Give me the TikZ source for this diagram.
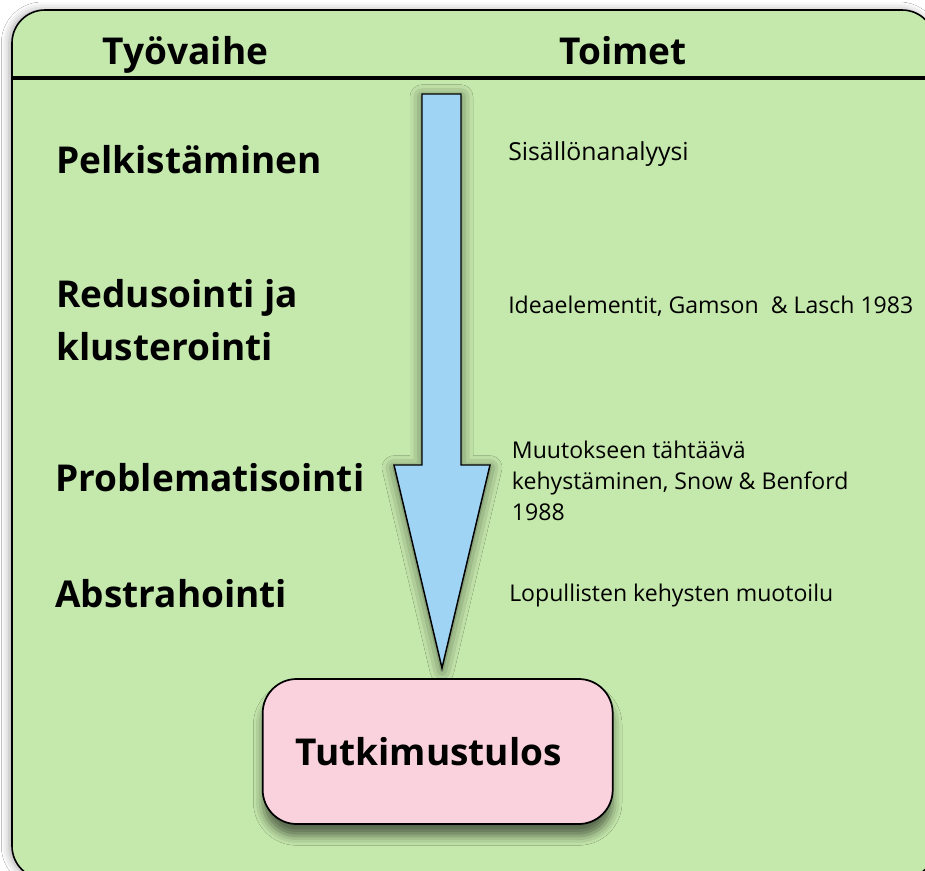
\documentclass[tikz,border=0pt]{standalone}
\usepackage{fontspec}
\setmainfont{Open Sans}
\usetikzlibrary{shadows.blur}
\definecolor{panelgreen}{RGB}{197,232,172}
\definecolor{arrowblue}{RGB}{160,212,245}
\definecolor{resultpink}{RGB}{250,210,222}
\tikzset{
  head/.style={font=\bfseries\fontsize{27.75}{33}\selectfont, inner sep=0pt, anchor=base},
  phase/.style={font=\bfseries\fontsize{27.75}{39.75}\selectfont, inner sep=0pt, anchor=base west, align=left},
  action/.style={font=\fontsize{17.3}{23.25}\selectfont, inner sep=0pt, anchor=base west, align=left},
  resultbox/.style={draw=black, line width=1.3pt, fill=resultpink, rounded corners=25.5pt,
    minimum width=262.5pt, minimum height=108.75pt, inner sep=0pt,
    font=\bfseries\fontsize{27.75}{33}\selectfont,
    blur shadow={shadow xshift=0pt, shadow yshift=-9pt, shadow blur radius=7pt, shadow opacity=55}},
  panel/.style={draw=black, line width=1.2pt, fill=panelgreen, rounded corners=24.75pt,
    blur shadow={shadow xshift=-2pt, shadow yshift=0pt, shadow blur radius=6pt, shadow opacity=35}},
  flowarrow/.style={draw=black, line width=1.1pt, fill=arrowblue, line join=miter,
    blur shadow={shadow xshift=0pt, shadow yshift=-2pt, shadow blur radius=9pt, shadow opacity=60}}
}
\begin{document}
\begin{tikzpicture}[x=0.75pt,y=-0.75pt]
\useasboundingbox (0,0) rectangle (925,871);
\fill[white] (0,0) rectangle (925,871);
% panel
\path[panel] (12,10) rectangle (935,879);
\draw[line width=2.4pt] (12,78) -- (935,78);
% headers
\node[head] (h1) at (185.5,64.5) {Työvaihe};
\node[head] (h2) at (623,64) {Toimet};
% arrow
\path[flowarrow] (422,94) -- (461,94) -- (461,465) -- (490,465) -- (442,668)
   -- (394,465) -- (422,465) -- cycle;
% phases
\node[phase] (p1) at (56,173.3) {Pelkistäminen};
\node[phase] (p2) at (56,360) {Redusointi ja\\klusterointi};
\node[phase] (p3) at (55,491.7) {Problematisointi};
\node[phase] (p4) at (55,607.7) {Abstrahointi};
% actions
\node[action, font=\fontsize{18.6}{23.25}\selectfont] (a1) at (508,160.7) {Sisällönanalyysi};
\node[action] (a2) at (508,313.3) {Ideaelementit, Gamson\ \ \& Lasch 1983};
\node[action] (a3) at (511.7,520) {Muutokseen tähtäävä\\kehystäminen, Snow \& Benford\\1988};
\node[action] (a4) at (509,601.7) {Lopullisten kehysten muotoilu};
% result
\node[resultbox] (result) at (437.7,751.5) {\hspace*{-13.5pt}Tutkimustulos};
\end{tikzpicture}
\end{document}
